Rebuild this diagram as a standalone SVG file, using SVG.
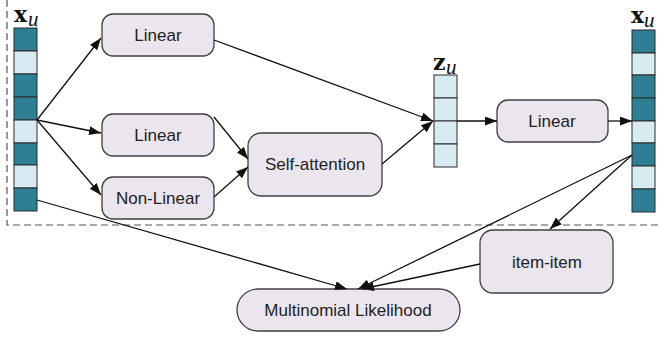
<svg xmlns="http://www.w3.org/2000/svg" width="658" height="338" viewBox="0 0 658 338">
<defs>
<marker id="ah" markerUnits="userSpaceOnUse" markerWidth="13" markerHeight="10" refX="12" refY="4.5" orient="auto">
<path d="M0,0 L12,4.5 L0,9 z" fill="#111"/>
</marker>
<style>
.box{fill:#ebe5ee;stroke:#404040;stroke-width:1.3}
.lbl{font-family:"Liberation Sans",Arial,sans-serif;font-size:17px;fill:#222;text-anchor:middle}
.d{fill:#2e7f93;stroke:#2a2a2a;stroke-width:1}
.l{fill:#d9ebf2;stroke:#2a2a2a;stroke-width:1}
.c{stroke:#111;stroke-width:1.3;fill:none}
.a{marker-end:url(#ah)}
.vb{font-family:"DejaVu Serif","Liberation Serif",serif;font-weight:bold;font-size:22px;fill:#111}
.vi{font-family:"Liberation Serif","Times New Roman",serif;font-style:italic;font-size:21px;fill:#111}
</style>
</defs>
<rect width="658" height="338" fill="#fff"/>
<path d="M7,0 V225 H658" fill="none" stroke="#555" stroke-width="1.2" stroke-dasharray="7,4"/>

<g id="xu-in">
<rect class="d" x="14" y="28" width="23" height="23"/>
<rect class="l" x="14" y="51" width="23" height="23"/>
<rect class="d" x="14" y="74" width="23" height="23"/>
<rect class="d" x="14" y="97" width="23" height="23"/>
<rect class="l" x="14" y="120" width="23" height="23"/>
<rect class="d" x="14" y="143" width="23" height="22"/>
<rect class="l" x="14" y="165" width="23" height="23"/>
<rect class="d" x="14" y="188" width="23" height="23"/>
<text x="14" y="22" class="vb">x</text><text x="28" y="26" class="vi">u</text>
</g>

<g id="linear1"><rect class="box" x="102" y="14" width="112" height="42" rx="11"/><text class="lbl" x="158" y="41">Linear</text></g>
<g id="linear2"><rect class="box" x="102" y="114" width="112" height="42" rx="11"/><text class="lbl" x="158" y="141">Linear</text></g>
<g id="nonlinear"><rect class="box" x="102" y="177" width="112" height="42" rx="11"/><text class="lbl" x="158" y="204">Non-Linear</text></g>
<g id="selfatt"><rect class="box" x="248" y="133" width="134" height="63" rx="13"/><text class="lbl" x="315" y="170">Self-attention</text></g>

<g id="zu">
<rect class="l" x="434" y="75" width="23" height="23"/>
<rect class="l" x="434" y="98" width="23" height="23"/>
<rect class="l" x="434" y="121" width="23" height="23"/>
<rect class="l" x="434" y="144" width="23" height="23"/>
<text x="433" y="70" class="vb">z</text><text x="446" y="74" class="vi">u</text>
</g>

<g id="linear3"><rect class="box" x="497" y="100" width="111" height="42" rx="11"/><text class="lbl" x="552" y="127">Linear</text></g>

<g id="xu-out">
<rect class="d" x="632" y="30" width="23" height="23"/>
<rect class="l" x="632" y="53" width="23" height="22"/>
<rect class="d" x="632" y="75" width="23" height="23"/>
<rect class="d" x="632" y="98" width="23" height="23"/>
<rect class="l" x="632" y="121" width="23" height="22"/>
<rect class="d" x="632" y="143" width="23" height="23"/>
<rect class="l" x="632" y="166" width="23" height="23"/>
<rect class="d" x="632" y="189" width="23" height="23"/>
<text x="631" y="23" class="vb">x</text><text x="644" y="27" class="vi">u</text>
</g>

<g id="itemitem"><rect class="box" x="480" y="230" width="133" height="63" rx="13"/><text class="lbl" x="547" y="268">item-item</text></g>
<g id="multinomial"><rect class="box" x="237" y="289" width="223" height="42" rx="21"/><text class="lbl" x="348" y="316">Multinomial Likelihood</text></g>

<g id="connectors">
<line class="c a" x1="37" y1="120" x2="101" y2="38"/>
<line class="c a" x1="37" y1="120" x2="101" y2="133"/>
<line class="c a" x1="37" y1="120" x2="101" y2="195"/>
<line class="c a" x1="37" y1="200" x2="347" y2="289"/>
<line class="c a" x1="214" y1="40" x2="433" y2="121"/>
<line class="c a" x1="214" y1="117" x2="248" y2="159"/>
<line class="c a" x1="214" y1="197" x2="248" y2="167"/>
<line class="c a" x1="382" y1="164" x2="433" y2="121"/>
<line class="c a" x1="457" y1="121" x2="497" y2="121"/>
<line class="c a" x1="608" y1="121" x2="632" y2="121"/>
<line class="c a" x1="632" y1="155" x2="358" y2="289"/>
<line class="c a" x1="632" y1="155" x2="550" y2="229"/>
<line class="c a" x1="480" y1="264" x2="362" y2="289"/>
</g>
</svg>
